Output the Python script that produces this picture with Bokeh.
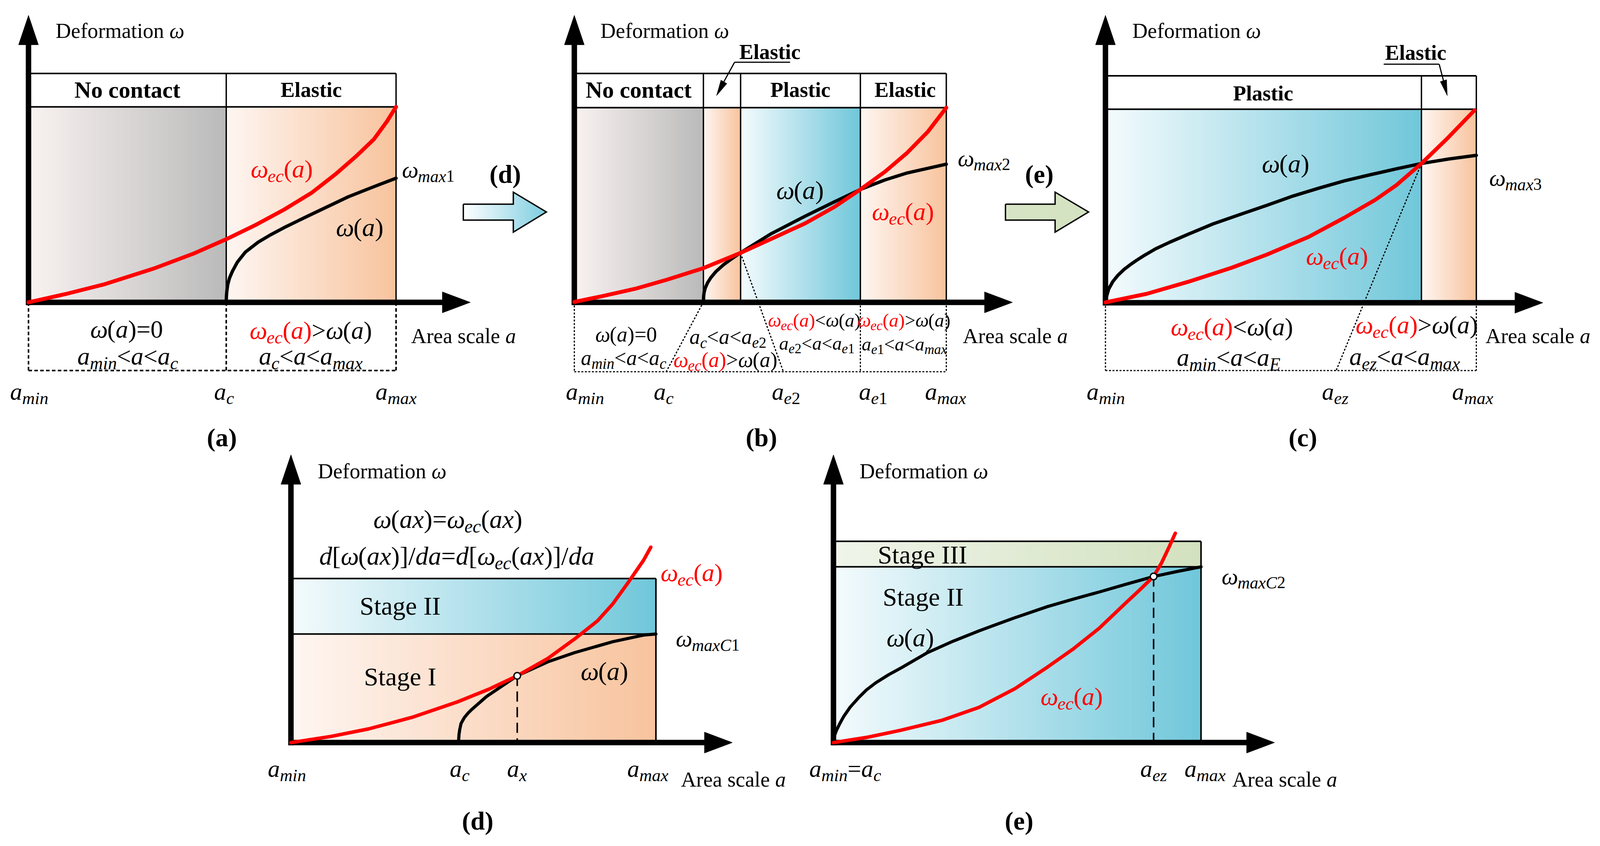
from bokeh.plotting import figure
from bokeh.models import Range1d, ColumnDataSource
from bokeh.core.properties import value, field
from bokeh.embed import file_html
from bokeh.resources import INLINE

# ---------------- DATA (panel units: a from a_min=0 to a_max=1, omega 0..1) ----------------
# panel (a)
A_BOUNDS = [0.0, 0.538, 1.0]                      # a_min, a_c, a_max
A_RED_A = [0, 0.10, 0.204, 0.344, 0.45, 0.538, 0.62, 0.695, 0.77, 0.835, 0.89, 0.94, 0.975, 1.0]
A_RED_W = [0, 0.042, 0.091, 0.175, 0.25, 0.323, 0.398, 0.474, 0.56, 0.655, 0.745, 0.835, 0.925, 1.0]
A_BLK_A = [0.538, 0.5385, 0.5395, 0.542, 0.547, 0.555, 0.568, 0.59, 0.625, 0.66, 0.695, 0.765, 0.87, 0.94, 1.0]
A_BLK_W = [0, 0.03, 0.055, 0.09, 0.125, 0.16, 0.205, 0.257, 0.308, 0.347, 0.382, 0.446, 0.54, 0.592, 0.635]
# panel (b)
B_BOUNDS = [0.0, 0.347, 0.447, 0.769, 1.0]        # a_min, a_c, a_e2, a_e1, a_max
B_RED_A = [0, 0.08, 0.164, 0.25, 0.347, 0.445, 0.53, 0.621, 0.70, 0.769, 0.835, 0.895, 0.95, 1.0]
B_RED_W = [0, 0.032, 0.068, 0.115, 0.174, 0.251, 0.325, 0.405, 0.49, 0.579, 0.67, 0.768, 0.875, 1.0]
B_BLK_A = [0.347, 0.3478, 0.349, 0.352, 0.358, 0.367, 0.38, 0.40, 0.42, 0.445, 0.53, 0.621, 0.70, 0.769, 0.835, 0.895, 1.0]
B_BLK_W = [0, 0.03, 0.05, 0.072, 0.098, 0.125, 0.155, 0.19, 0.218, 0.251, 0.352, 0.442, 0.516, 0.579, 0.628, 0.664, 0.709]
# panel (c)
C_BOUNDS = [0.0, 0.852, 1.0]                      # a_min, a_E, a_max
C_RED_A = [0, 0.111, 0.226, 0.34, 0.435, 0.548, 0.644, 0.727, 0.784, 0.852, 0.923, 0.995]
C_RED_W = [0, 0.044, 0.108, 0.179, 0.247, 0.339, 0.438, 0.530, 0.606, 0.719, 0.851, 0.994]
C_BLK_A = [0, 0.004, 0.009, 0.02, 0.034, 0.05, 0.067, 0.085, 0.103, 0.135, 0.173, 0.226, 0.29, 0.365,
           0.435, 0.505, 0.575, 0.644, 0.715, 0.784, 0.852, 0.925, 1.0]
C_BLK_W = [0, 0.038, 0.070, 0.108, 0.141, 0.170, 0.195, 0.219, 0.241, 0.277, 0.311, 0.355, 0.406, 0.456,
           0.502, 0.550, 0.591, 0.629, 0.661, 0.691, 0.719, 0.742, 0.761]
# panel (d)
D_AC, D_AX, D_WX, D_STAGE = 0.459, 0.620, 0.407, 0.662
D_RED_A = [0, 0.111, 0.212, 0.332, 0.456, 0.543, 0.620, 0.704, 0.777, 0.840, 0.882, 0.925, 0.966, 0.986]
D_RED_W = [0, 0.038, 0.083, 0.154, 0.248, 0.326, 0.407, 0.513, 0.631, 0.742, 0.846, 0.979, 1.111, 1.191]
D_BLK_A = [0.459, 0.4605, 0.4625, 0.466, 0.475, 0.485, 0.494, 0.536, 0.620, 0.706, 0.777, 0.882, 0.966, 1.0]
D_BLK_W = [0, 0.05, 0.08, 0.116, 0.152, 0.179, 0.199, 0.281, 0.407, 0.494, 0.548, 0.615, 0.655, 0.662]
# panel (e)
E_AEZ, E_WX, E_STAGE = 0.871, 0.825, 0.873
E_RED_A = [0, 0.094, 0.185, 0.294, 0.396, 0.494, 0.583, 0.653, 0.723, 0.793, 0.833, 0.871, 0.893, 0.913, 0.930]
E_RED_W = [0, 0.027, 0.062, 0.110, 0.175, 0.268, 0.376, 0.466, 0.568, 0.690, 0.758, 0.825, 0.894, 0.971, 1.040]
E_BLK_A = [0, 0.003, 0.008, 0.017, 0.028, 0.045, 0.07, 0.09, 0.115, 0.15, 0.185, 0.256, 0.326, 0.396,
           0.49, 0.583, 0.653, 0.723, 0.797, 0.871, 0.935, 1.0]
E_BLK_W = [0, 0.035, 0.06, 0.094, 0.13, 0.175, 0.226, 0.262, 0.297, 0.337, 0.372, 0.447, 0.504, 0.555,
           0.618, 0.676, 0.713, 0.748, 0.787, 0.825, 0.85, 0.873]

# ---------------- LAYOUT / STYLE ----------------
W_PAGE, H_PAGE = 4336, 2165           # reference coordinate frame
FIG_W, FIG_H = 4080, 2149             # drawable page area
KX = W_PAGE / FIG_W                   # data units per screen px (horizontal)
FS = 0.97                             # font scale

PX = {"a": (77, 1077, 779, 275), "b": (1562, 2574, 778, 277), "c": (3007, 4016, 779, 281),
      "d": (791, 1784, 1914, 1491), "e": (2267, 3267, 1914, 1395)}
HEAD = {"a": 1.171, "b": 1.176, "c": 1.173}
STRIP = {"a": -0.349, "b": -0.359, "c": -0.353}
B_STRIP_AC, B_STRIP_AE2, C_STRIP_AEZ = 0.247, 0.562, 0.622

RED, BLK = "#ff0000", "#000000"
GRAY = ("#f9f2f1", "#bababa")
PEACH = ("#fef6f2", "#f8c39d")
BLUE = ("#f4fbfd", "#70c7da")
GREEN = ("#f0f5ea", "#d2e1bf")
FONT = "Liberation Serif"

p = figure(width=FIG_W, height=FIG_H, x_range=Range1d(0, W_PAGE), y_range=Range1d(H_PAGE, 0),
           output_backend="svg", toolbar_location=None, x_axis_type=None, y_axis_type=None,
           min_border=0)
p.grid.visible = False
p.outline_line_color = None
p.background_fill_color = "white"
p.border_fill_color = "white"


def mix(c0, c1, t):
    a = [int(c0[i:i + 2], 16) for i in (1, 3, 5)]
    b = [int(c1[i:i + 2], 16) for i in (1, 3, 5)]
    return "#%02x%02x%02x" % tuple(round(a[i] + (b[i] - a[i]) * t) for i in range(3))


def sub(key):
    x0, x1, y0, y1 = PX[key]
    return p.subplot(x_source=Range1d(0, 1), y_source=Range1d(0, 1),
                     x_target=Range1d(x0, x1), y_target=Range1d(y0, y1))


def grad(sp, a0, a1, w0, w1, cols, n=80):
    lefts = [a0 + (a1 - a0) * k / n for k in range(n)]
    fc = [mix(cols[0], cols[1], (k + 0.5) / n) for k in range(n)]
    sp.quad(left=lefts, right=[a1] * n, bottom=[w0] * n, top=[w1] * n, fill_color=fc, line_color=None)


def axes(x0, y0, ytip, xtip, lw=14, hw=27, hl=76):
    p.segment(x0=[x0], y0=[y0 + lw / 2], x1=[x0], y1=[ytip + hl - 4], line_width=lw, color=BLK)
    p.patch([x0 - hw, x0 + hw, x0], [ytip + hl, ytip + hl, ytip], color=BLK)
    p.segment(x0=[x0 - lw / 2], y0=[y0], x1=[xtip - hl + 4], y1=[y0], line_width=lw, color=BLK)
    p.patch([xtip - hl, xtip - hl, xtip], [y0 - hw, y0 + hw, y0], color=BLK)


def curve(sp, xa, yw, col, lw):
    sp.line(xa, yw, line_color=col, line_width=lw, line_cap="round", line_join="round")


# ---------------- top panels ----------------
def top_panel(key, bounds, fills):
    sp = sub(key)
    for lo, hi, g in fills:
        grad(sp, lo, hi, 0, 1, g)
    ht = HEAD[key]
    sp.segment(x0=[0, 0], y0=[1, ht], x1=[1, 1], y1=[1, ht], line_width=4, color=BLK)
    inner = bounds[1:]
    sp.segment(x0=inner, y0=[0] * len(inner), x1=inner, y1=[ht] * len(inner), line_width=3.5, color=BLK)
    return sp


spa = top_panel("a", A_BOUNDS, [(A_BOUNDS[0], A_BOUNDS[1], GRAY), (A_BOUNDS[1], A_BOUNDS[2], PEACH)])
spb = top_panel("b", B_BOUNDS, [(B_BOUNDS[0], B_BOUNDS[1], GRAY), (B_BOUNDS[1], B_BOUNDS[2], PEACH),
                                (B_BOUNDS[2], B_BOUNDS[3], BLUE), (B_BOUNDS[3], B_BOUNDS[4], PEACH)])
spc = top_panel("c", C_BOUNDS, [(C_BOUNDS[0], C_BOUNDS[1], BLUE), (C_BOUNDS[1], C_BOUNDS[2], PEACH)])

# ---------------- bottom panels ----------------
spd = sub("d")
grad(spd, 0, 1, 0, D_STAGE, PEACH)
grad(spd, 0, 1, D_STAGE, 1, BLUE)
spd.segment(x0=[0, 0, 1], y0=[D_STAGE, 1, 0], x1=[1, 1, 1], y1=[D_STAGE, 1, 1], line_width=4, color=BLK)

spe = sub("e")
grad(spe, 0, 1, 0, E_STAGE, BLUE)
grad(spe, 0, 1, E_STAGE, 1, GREEN)
spe.segment(x0=[0, 0, 1], y0=[E_STAGE, 1, 0], x1=[1, 1, 1], y1=[E_STAGE, 1, 1], line_width=4, color=BLK)

# ---------------- dashed lower strips ----------------
sa = STRIP["a"]
spa.segment(x0=A_BOUNDS, y0=[0] * 3, x1=A_BOUNDS, y1=[sa] * 3, line_width=4, color=BLK, line_dash="9 6")
spa.segment(x0=[0], y0=[sa], x1=[1], y1=[sa], line_width=4, color=BLK, line_dash="9 6")
sb = STRIP["b"]
spb.segment(x0=[0, B_BOUNDS[3], 1, 0, B_BOUNDS[1], B_BOUNDS[2]],
            y0=[0, 0, 0, sb, 0, 0.251],
            x1=[0, B_BOUNDS[3], 1, 1, B_STRIP_AC, B_STRIP_AE2],
            y1=[sb, sb, sb, sb, sb, sb], line_width=3, color=BLK, line_dash="5 4")
sc = STRIP["c"]
spc.segment(x0=[0, 1, 0, C_BOUNDS[1]], y0=[0, 0, sc, 0.719],
            x1=[0, 1, 1, C_STRIP_AEZ], y1=[sc, sc, sc, sc], line_width=3, color=BLK, line_dash="5 4")

# dashed verticals in (d), (e)
spd.segment(x0=[D_AX], y0=[D_WX], x1=[D_AX], y1=[0], line_width=4, color=BLK, line_dash="26 14")
spe.segment(x0=[E_AEZ], y0=[E_WX], x1=[E_AEZ], y1=[0], line_width=4, color=BLK, line_dash="26 14")

# ---------------- axes ----------------
axes(77, 779, 39, 1279)
axes(1562, 779, 39, 2754)
axes(3007, 780, 39, 4197)
axes(791, 1914, 1172, 1992)
axes(2267, 1914, 1172, 3467)

# ---------------- curves ----------------
curve(spa, A_BLK_A, A_BLK_W, BLK, 8.5)
curve(spa, A_RED_A, A_RED_W, RED, 10)
curve(spb, B_BLK_A, B_BLK_W, BLK, 8.5)
curve(spb, B_RED_A, B_RED_W, RED, 10)
curve(spc, C_BLK_A, C_BLK_W, BLK, 8.5)
curve(spc, C_RED_A, C_RED_W, RED, 10)
curve(spd, D_BLK_A, D_BLK_W, BLK, 8)
curve(spd, D_RED_A, D_RED_W, RED, 9)
curve(spe, E_BLK_A, E_BLK_W, BLK, 8)
curve(spe, E_RED_A, E_RED_W, RED, 9)
spd.scatter([D_AX], [D_WX], size=17, fill_color="white", line_color=BLK, line_width=3.5)
spe.scatter([E_AEZ], [E_WX], size=17, fill_color="white", line_color=BLK, line_width=3.5)


# ---------------- block arrows between panels ----------------
def block_arrow(xs, xh, xt, ys0, ys1, yh0, yh1, yc, c0, c1, n=60):
    xsl, ysl = [], []
    for k in range(n):
        xl = xs + (xt - xs) * k / n
        if xl < xh:
            xsl.append([xl, xh, xh, xt, xh, xh, xl])
            ysl.append([ys0, ys0, yh0, yc, yh1, ys1, ys1])
        else:
            f = (xl - xh) / (xt - xh)
            xsl.append([xl, xt, xl])
            ysl.append([yh0 + (yc - yh0) * f, yc, yh1 + (yc - yh1) * f])
    p.patches(xsl, ysl, fill_color=[mix(c0, c1, (k + 0.5) / n) for k in range(n)], line_color=None)
    p.line([xs, xh, xh, xt, xh, xh, xs, xs], [ys0, ys0, yh0, yc, yh1, ys1, ys1, ys0],
           line_color=BLK, line_width=3.5, line_join="miter")


block_arrow(1260, 1396, 1486, 526, 567, 495, 598, 546, "#ffffff", "#7dcde0")
block_arrow(2735, 2870, 2961, 526, 567, 495, 598, 546, "#d7e5c6", "#d3e2c0")

# callout pointers ("Elastic")
p.segment(x0=[1998, 1998], y0=[160, 160], x1=[2149, 1962], y1=[160, 222], line_width=3, color=BLK)
p.patch([1949, 1977, 1961], [246, 215, 206], color=BLK)
p.segment(x0=[3764, 3915], y0=[165, 165], x1=[3915, 3930], y1=[165, 220], line_width=3, color=BLK)
p.patch([3937, 3935, 3918], [246, 205, 210], color=BLK)

# ---------------- texts ----------------
RM = {' ': 250, '(': 333, ')': 333, '[': 333, ']': 333, '/': 278, '=': 564, '<': 564, '>': 564,
      '0': 500, '1': 500, '2': 500, '3': 500, 'A': 722, 'C': 667, 'D': 722, 'E': 611, 'I': 333,
      'S': 556, 'a': 444, 'c': 444, 'd': 500, 'e': 444, 'f': 333, 'g': 500, 'i': 278, 'l': 278,
      'm': 778, 'n': 500, 'o': 500, 'r': 333, 's': 389, 't': 278, 'x': 500, 'z': 444}
IT = {'a': 500, 'c': 444, 'd': 500, 'e': 444, 'i': 278, 'm': 722, 'n': 500, 'x': 444, 'z': 389,
      'E': 611, 'C': 667, 'ω': 680}
SUBF, DROP, MID = 0.72, 0.18, 0.337
TX = dict(x=[], y=[], text=[], size=[], style=[], color=[], align=[])


def put(x, y, t, size, style, color, align):
    TX["x"].append(x); TX["y"].append(y); TX["text"].append(t)
    TX["size"].append("%.1fpx" % (size * FS)); TX["style"].append(style)
    TX["color"].append(color); TX["align"].append(align)


def L(x, y, spec, size, align="center", dy=0.09):
    """Rich label: letters italic in math mode ('m'), '_{..}' = subscript. y = visual centre."""
    if isinstance(spec, str):
        spec = [(spec, BLK, "m")]
    chars = []
    for s, col, mode in spec:
        i, sb = 0, False
        while i < len(s):
            if s.startswith("_{", i):
                sb = True; i += 2; continue
            if s[i] == "}" and sb:
                sb = False; i += 1; continue
            ch = s[i]
            it = ch.isalpha() if mode == "m" else (ch == "ω")
            chars.append((ch, it, sb, col))
            i += 1
    ws = [(IT if it else RM).get(ch, 500) / 1000 * size * FS * KX * (SUBF if sb else 1)
          for ch, it, sb, col in chars]
    xc = x - sum(ws) / 2 if align == "center" else x
    ya = y + dy * size
    ys = ya + size * (MID * (1 - SUBF) + DROP)
    runs = []
    for (ch, it, sb, col), w in zip(chars, ws):
        key = (it, sb, col)
        if runs and runs[-1][0] == key:
            runs[-1][1] += ch
        else:
            runs.append([key, ch, xc])
        xc += w
    for (it, sb, col), t, xs in runs:
        put(xs, ys if sb else ya, t, size * (SUBF if sb else 1), "italic" if it else "normal", col, "left")


def B(x, y, t, size, dy=0.0):
    put(x, y + dy * size, t, size, "bold", BLK, "center")


EC_GT = [("ω_{ec}(a)", RED, "m"), (">ω(a)", BLK, "m")]
EC_LT = [("ω_{ec}(a)", RED, "m"), ("<ω(a)", BLK, "m")]
DEF = [("Deformation ω", BLK, "r")]
AREA = [("Area scale ", BLK, "r"), ("a", BLK, "m")]

# axis titles
for x, y in [(151, 79), (1633, 79), (3080, 79), (864, 1214), (2338, 1214)]:
    L(x, y, DEF, 56, "left", 0.0)
for x, y in [(1118, 866), (2619, 866), (4041, 866), (1852, 2009), (3352, 2009)]:
    L(x, y, AREA, 56, "left", 0.0)

# header labels
B(346, 231, "No contact", 61)
B(846, 231, "Elastic", 56)
B(1737, 231, "No contact", 61)
B(2177, 231, "Plastic", 56)
B(2462, 231, "Elastic", 56)
B(3436, 240, "Plastic", 56)
B(2094, 133, "Elastic", 56)
B(3851, 135, "Elastic", 56)

# curve labels
L(766, 429, [("ω_{ec}(a)", RED, "m")], 66)
L(978, 579, "ω(a)", 68)
L(1093, 431, "ω_{max1}", 62, "left")
L(2176, 484, "ω(a)", 68)
L(2456, 539, [("ω_{ec}(a)", RED, "m")], 66)
L(2605, 401, "ω_{max2}", 62, "left")
L(3497, 415, "ω(a)", 68)
L(3637, 654, [("ω_{ec}(a)", RED, "m")], 66)
L(4051, 452, "ω_{max3}", 62, "left")

# region descriptions
L(344, 842, "ω(a)=0", 66)
L(347, 912, "a_{min}<a<a_{c}", 66)
L(845, 845, EC_GT, 66)
L(845, 912, "a_{c}<a<a_{max}", 66)
L(1703, 857, "ω(a)=0", 56)
L(1696, 917, "a_{min}<a<a_{c}", 56)
L(1980, 863, "a_{c}<a<a_{e2}", 56)
L(1973, 922, EC_GT, 56)
L(2215, 821, EC_LT, 50)
L(2222, 880, "a_{e2}<a<a_{e1}", 50)
L(2459, 821, EC_GT, 50)
L(2460, 882, "a_{e1}<a<a_{max}", 50)
L(3351, 836, EC_LT, 66)
L(3342, 915, "a_{min}<a<a_{E}", 66)
L(3854, 831, EC_GT, 66)
L(3821, 913, "a_{ez}<a<a_{max}", 66)

# tick labels (top)
for x, t in [(79, "a_{min}"), (609, "a_{c}"), (1077, "a_{max}"),
             (1591, "a_{min}"), (1805, "a_{c}"), (2138, "a_{e2}"), (2375, "a_{e1}"), (2572, "a_{max}"),
             (3008, "a_{min}"), (3632, "a_{ez}"), (4006, "a_{max}")]:
    L(x, 1003, t, 64)
# tick labels (bottom)
for x, t in [(780, "a_{min}"), (1250, "a_{c}"), (1406, "a_{x}"), (1762, "a_{max}"),
             (2299, "a_{min}=a_{c}"), (3138, "a_{ez}"), (3278, "a_{max}")]:
    L(x, 1975, t, 64)

# panel (d) texts
L(1218, 1332, "ω(ax)=ω_{ec}(ax)", 68)
L(1242, 1426, "d[ω(ax)]/da=d[ω_{ec}(ax)]/da", 68)
L(1088, 1560, [("Stage II", BLK, "r")], 68, dy=0.03)
L(1088, 1742, [("Stage I", BLK, "r")], 68, dy=0.03)
L(1644, 1724, "ω(a)", 68)
L(1881, 1470, [("ω_{ec}(a)", RED, "m")], 66)
L(1838, 1640, "ω_{maxC1}", 62, "left")
# panel (e) texts
L(2509, 1428, [("Stage III", BLK, "r")], 68, dy=0.03)
L(2511, 1536, [("Stage II", BLK, "r")], 68, dy=0.03)
L(2476, 1637, "ω(a)", 68)
L(2915, 1789, [("ω_{ec}(a)", RED, "m")], 66)
L(3323, 1479, "ω_{maxC2}", 62, "left")

# captions and arrow labels
for x, y, t in [(603, 1121, "(a)"), (2071, 1121, "(b)"), (3544, 1121, "(c)"),
                (1299, 2110, "(d)"), (2772, 2110, "(e)"), (1374, 442, "(d)"), (2827, 442, "(e)")]:
    B(x, y, t, 68, dy=0.09)

src = ColumnDataSource(TX)
p.text(x="x", y="y", text="text", source=src, text_font=value(FONT),
       text_font_size=field("size"), text_font_style=field("style"),
       text_color=field("color"), text_align=field("align"), text_baseline="middle")

open("out.html", "w").write(file_html(p, INLINE))
